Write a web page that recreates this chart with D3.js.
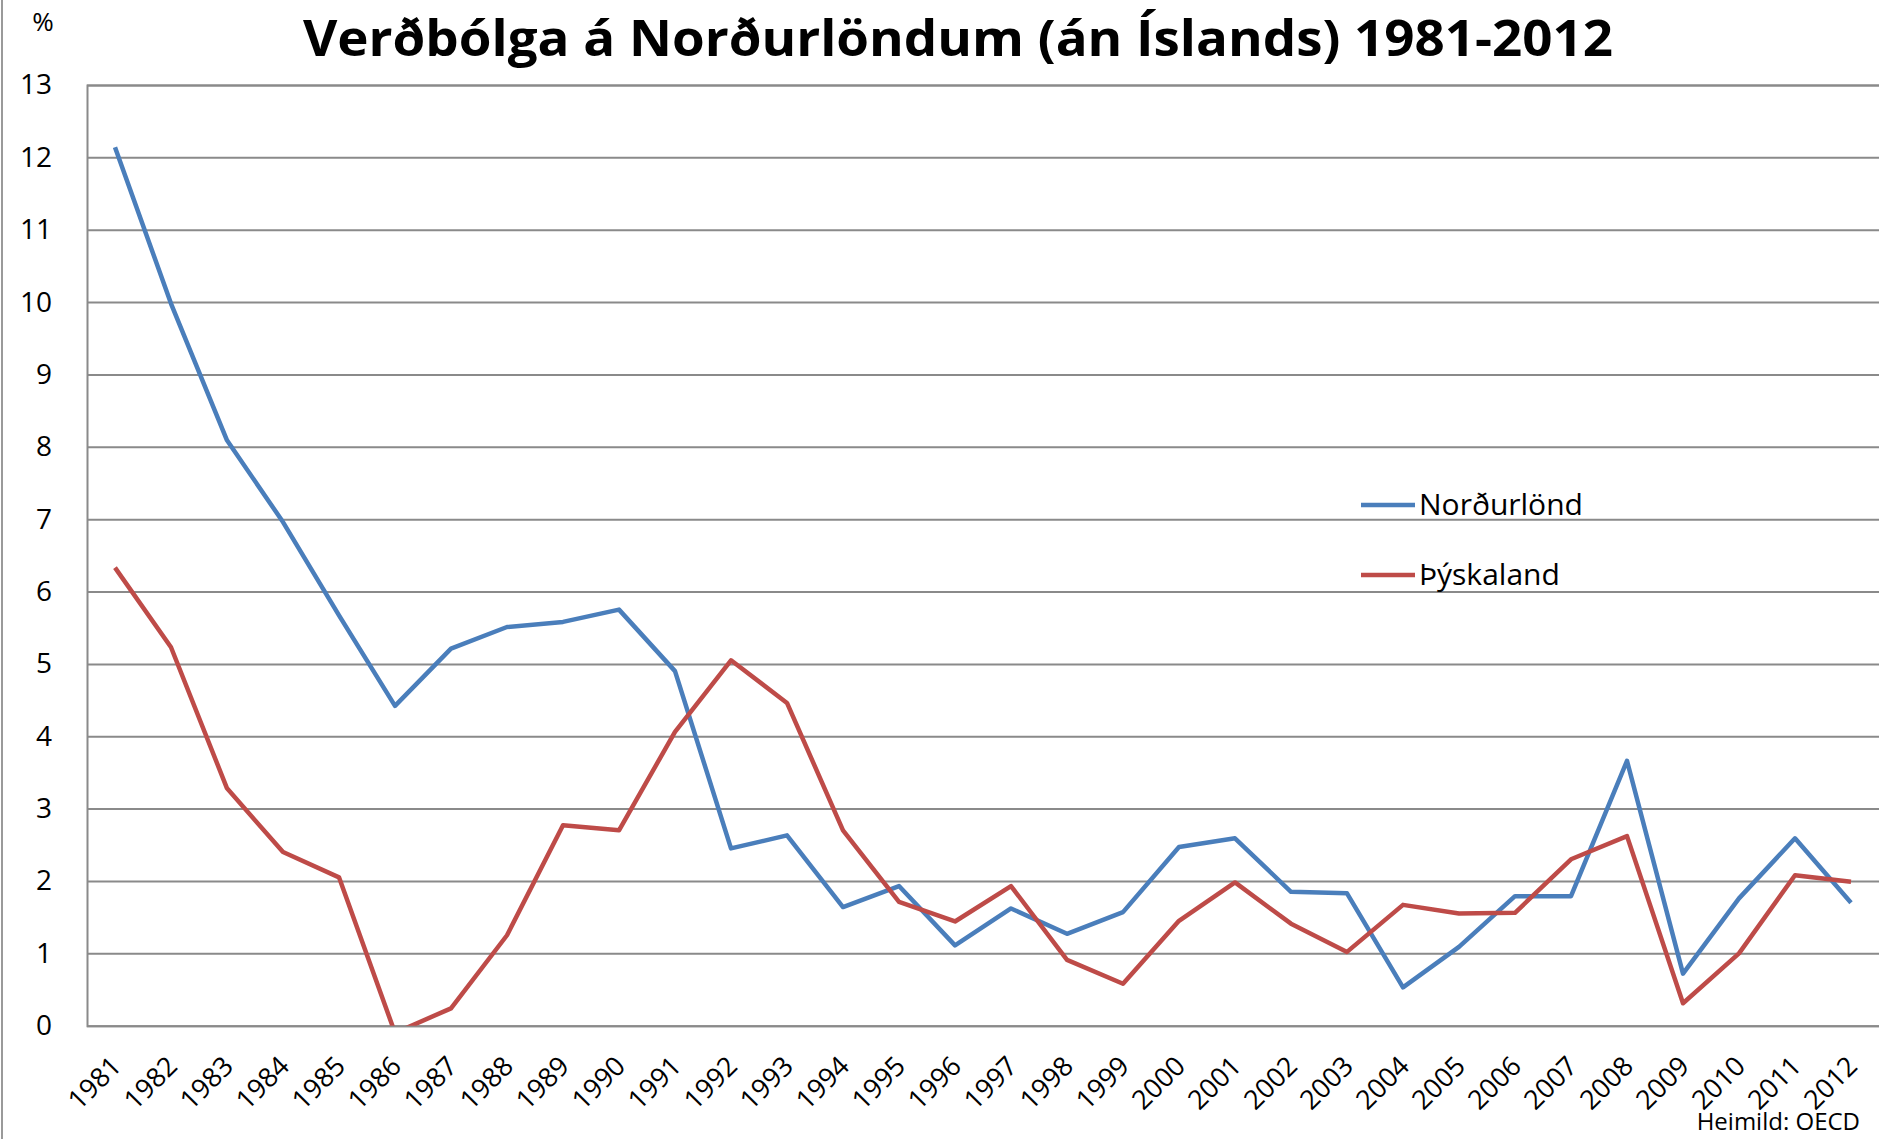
<!DOCTYPE html>
<html>
<head>
<meta charset="utf-8">
<script src="https://cdn.jsdelivr.net/npm/d3@7"></script>
<style>
  body { margin: 0; background: #fff; }
  svg { display: block; font-family: "Open Sans", sans-serif; }
</style>
</head>
<body>
<svg id="chart" width="1880" height="1139"></svg>
<script>
// data
const years = ["1981","1982","1983","1984","1985","1986","1987","1988","1989","1990",
               "1991","1992","1993","1994","1995","1996","1997","1998","1999","2000",
               "2001","2002","2003","2004","2005","2006","2007","2008","2009","2010",
               "2011","2012"]

const nordurlond = [12.14, 9.98, 8.09, 6.96, 5.67, 4.42, 5.21, 5.51, 5.58, 5.75,
                    4.90, 2.45, 2.63, 1.64, 1.93, 1.11, 1.62, 1.27, 1.57, 2.47,
                    2.59, 1.85, 1.83, 0.53, 1.09, 1.79, 1.79, 3.66, 0.72, 1.76,
                    2.59, 1.70]

const thyskaland = [6.33, 5.23, 3.28, 2.40, 2.05, -0.10, 0.24, 1.25, 2.77, 2.70,
                    4.06, 5.05, 4.46, 2.70, 1.71, 1.44, 1.93, 0.91, 0.58, 1.45,
                    1.98, 1.41, 1.02, 1.67, 1.55, 1.56, 2.30, 2.62, 0.31, 1.00,
                    2.08, 1.99]

const yTicks = d3.range(0, 14)

const seriesNames = ["Norðurlönd", "Þýskaland"]
const seriesColors = ["#4a7ebb", "#be4b48"]

const titleText = "Verðbólga á Norðurlöndum (án Íslands) 1981-2012"
const sourceText = "Heimild:  OECD"

// layout
const svg = d3.select("svg#chart")
const plotLeft = 87, plotRight = 1879, plotTop = 85, plotBottom = 1025.7

const x = d3.scaleBand().domain(years).range([plotLeft, plotRight])
const y = d3.scaleLinear().domain([0, 13]).range([plotBottom, plotTop])

// frame edge on the left
svg.append("line")
    .attr("x1", 2).attr("x2", 2)
    .attr("y1", 0).attr("y2", 1139)
    .attr("stroke", "#9a9a9a")
    .attr("stroke-width", 2)

// gridlines + y labels
const yAxis = d3.axisLeft(y)
    .tickValues(yTicks)
    .tickSize(-(plotRight - plotLeft))
    .tickPadding(35)
    .tickFormat(d3.format("d"))

const gy = svg.append("g")
    .attr("transform", `translate(${plotLeft},0)`)
    .call(yAxis)
gy.select(".domain").attr("stroke", "#8a8a8a").attr("stroke-width", 2)
gy.selectAll(".tick line").attr("stroke", "#8a8a8a").attr("stroke-width", 2)
gy.selectAll(".tick text")
    .attr("fill", "#000")
    .attr("font-size", 28)
    .attr("font-family", "Open Sans")

// x labels, rotated
const xAxis = d3.axisBottom(x).tickSize(0).tickPadding(0)
const gx = svg.append("g")
    .attr("transform", `translate(0,${plotBottom})`)
    .call(xAxis)
gx.select(".domain").remove()
gx.selectAll(".tick text")
    .attr("fill", "#000")
    .attr("font-size", 27)
    .attr("font-family", "Open Sans")
    .attr("text-anchor", "end")
    .attr("dy", 0)
    .attr("transform", "translate(8,42) rotate(-45)")

// lines
svg.append("clipPath").attr("id", "plotclip")
  .append("rect")
    .attr("x", plotLeft).attr("y", plotTop - 10)
    .attr("width", plotRight - plotLeft + 10)
    .attr("height", plotBottom - plotTop + 10)

const line = d3.line()
    .x((d, i) => x(years[i]) + x.bandwidth() / 2)
    .y(d => y(d))

const plot = svg.append("g").attr("clip-path", "url(#plotclip)")
const allSeries = [nordurlond, thyskaland]

plot.selectAll("path.series")
    .data(allSeries)
    .join("path")
    .attr("class", "series")
    .attr("d", d => line(d))
    .attr("fill", "none")
    .attr("stroke", (d, i) => seriesColors[i])
    .attr("stroke-width", 4.5)
    .attr("stroke-linejoin", "round")

// legend
const legend = svg.append("g").attr("transform", "translate(1361,505)")
const items = legend.selectAll("g.item")
    .data(seriesNames)
    .join("g")
    .attr("class", "item")
    .attr("transform", (d, i) => `translate(0,${i * 70})`)
items.append("line")
    .attr("x1", 0).attr("x2", 54)
    .attr("y1", 0).attr("y2", 0)
    .attr("stroke", (d, i) => seriesColors[i])
    .attr("stroke-width", 4.5)
items.append("text")
    .attr("x", 58).attr("y", 10)
    .attr("font-size", 30)
    .text(d => d)

// title
svg.append("text")
    .attr("x", 958).attr("y", 56)
    .attr("text-anchor", "middle")
    .attr("font-size", 50)
    .attr("font-weight", "bold")
    .attr("textLength", 1310)
    .attr("lengthAdjust", "spacingAndGlyphs")
    .text(titleText)

// unit label
svg.append("text")
    .attr("x", 43).attr("y", 31)
    .attr("text-anchor", "middle")
    .attr("font-size", 26)
    .text("%")

// source
svg.append("text")
    .attr("x", 1860).attr("y", 1130)
    .attr("text-anchor", "end")
    .attr("font-size", 24)
    .text(sourceText)
</script>
</body>
</html>
